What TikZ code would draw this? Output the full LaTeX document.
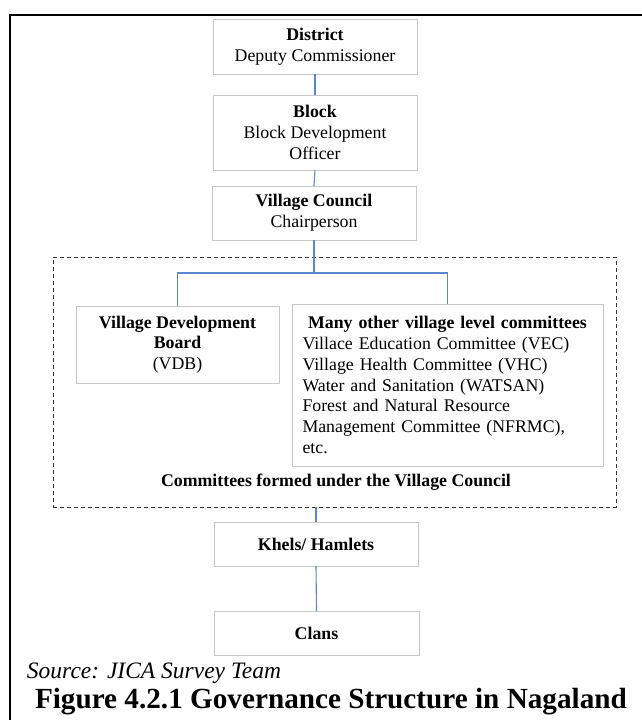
\documentclass[tikz,border=0pt]{standalone}
\usepackage{fontspec}
\setmainfont{Liberation Serif}
\definecolor{boxgray}{RGB}{200,200,200}
\definecolor{linkblue}{RGB}{90,135,205}
\begin{document}
\begin{tikzpicture}[x=1pt,y=-1pt,
  every node/.style={inner sep=0pt,outer sep=0pt},
  box/.style={draw=boxgray,line width=1pt,fill=white,align=center,
    font=\fontsize{17.8}{20.7}\selectfont},
  link/.style={draw=linkblue,line width=1.1pt},
  group/.style={draw=black!80,line width=0.9pt,dash pattern=on 4pt off 3pt}]
\useasboundingbox (0,0) rectangle (642,720);
% page frame
\draw[line width=2.4pt] (660,15) -- (10,15) -- (10,740);

% committees group
\node[group,minimum width=563pt,minimum height=250pt] (grp) at (334.5,382) {};
\node[font=\fontsize{17.8}{20.7}\selectfont\bfseries] (grplabel) at (336,482)
  {Committees formed under the Village Council};

% hierarchy boxes
\node[box,minimum width=204pt,minimum height=55pt] (district) at (315,46.5)
  {\textbf{District}\\Deputy Commissioner};
\node[box,minimum width=204pt,minimum height=75pt] (block) at (315,132.5)
  {\textbf{Block}\\Block Development\\Officer};
\node[box,minimum width=204pt,minimum height=54pt] (vc) at (314,213)
  {\textbf{Village Council}\\Chairperson};
\node[box,minimum width=203pt,minimum height=77pt] (vdb) at (177.5,344.5)
  {\textbf{Village Development}\\\textbf{Board}\\(VDB)};
\node[box,minimum width=311pt,minimum height=162pt,text width=290pt,align=left] (many) at (447.5,385)
  {\makebox[290pt][c]{\bfseries Many other village level committees}\\
   Villace Education Committee (VEC)\\
   Village Health Committee (VHC)\\
   Water and Sanitation (WATSAN)\\
   Forest and Natural Resource\\
   Management Committee (NFRMC),\\
   etc.};
\node[box,minimum width=204pt,minimum height=44pt] (khels) at (316,544)
  {\textbf{Khels/ Hamlets}};
\node[box,minimum width=205pt,minimum height=44pt] (clans) at (316.5,633)
  {\textbf{Clans}};

% connectors
\coordinate (split) at (314,273);
\draw[link] (district.south) -- (block.north);
\draw[link] (block.south) -- (vc.north);
\draw[link] (vc.south) -- (split) -| (vdb.north);
\draw[link] (split) -| (many.north);
\draw[link] (grp.south -| khels.north) -- (khels.north);
\draw[link] (khels.south) -- (clans.north);

% caption
\node[anchor=base west,font=\fontsize{23.5}{28}\selectfont\itshape] (source) at (27,678)
  {Source: JICA Survey Team};
\node[anchor=base west,font=\fontsize{29.2}{34}\selectfont\bfseries] (title) at (35,708)
  {Figure 4.2.1 Governance Structure in Nagaland};
\end{tikzpicture}
\end{document}
